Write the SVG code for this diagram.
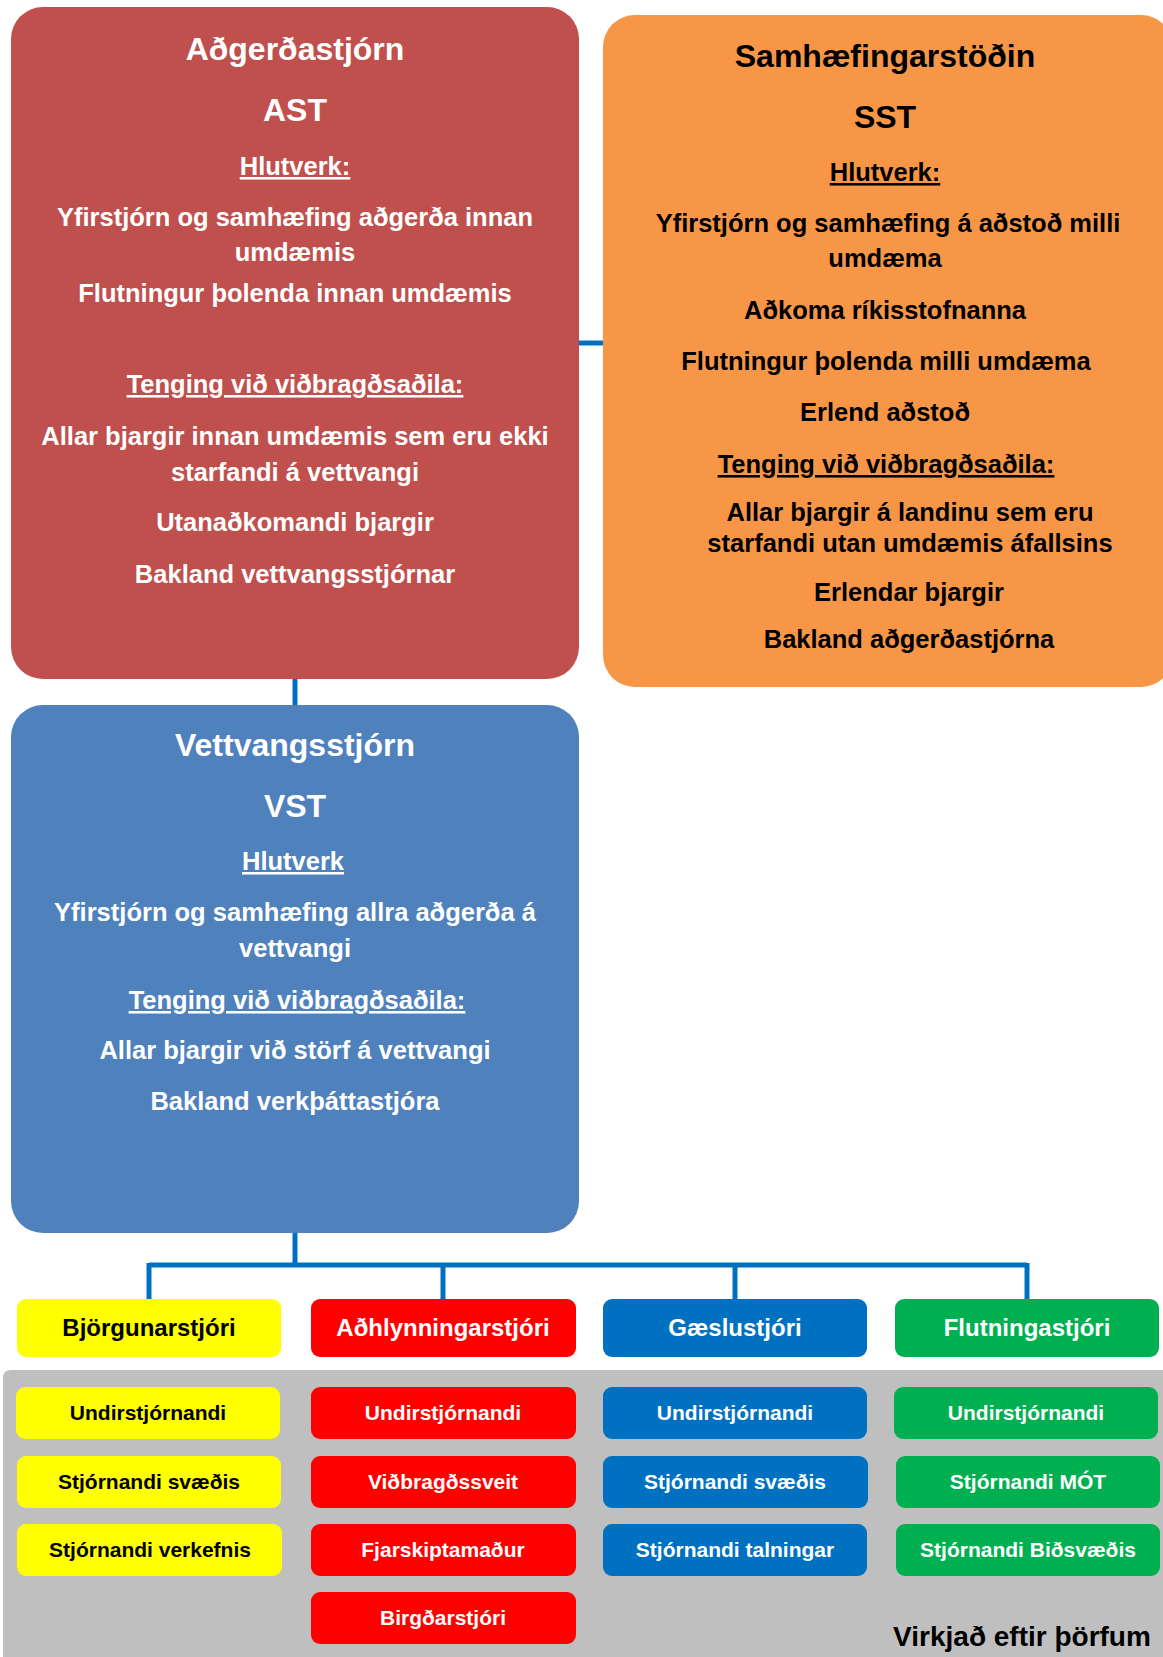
<svg xmlns="http://www.w3.org/2000/svg" width="1163" height="1657" viewBox="0 0 1163 1657">
<style>
text{font-family:"Liberation Sans",Arial,sans-serif;font-weight:bold;text-anchor:middle}
.w{fill:#FFFFFF}
.k{fill:#000000}
.t{font-size:32px}
.b{font-size:25.5px}
.u{text-decoration:underline}
.h{font-size:24px}
.s{font-size:21px}
.conn{fill:none;stroke:#0070C0;stroke-width:5}
</style>
<rect x="0" y="0" width="1163" height="1657" fill="#FFFFFF"/>
<g id="connectors">
<path class="conn" d="M579,343 H605"/>
<path class="conn" d="M295,677 V707"/>
<path class="conn" d="M295,1231 V1265"/>
<path class="conn" d="M149,1265 H1027"/>
<path class="conn" d="M149,1263 V1300 M443,1263 V1300 M735,1263 V1300 M1027,1263 V1300"/>
</g>
<g id="ast">
<rect x="11" y="7" width="568" height="672" rx="32" fill="#C0504D"/>
<text class="w t" x="295" y="60">Aðgerðastjórn</text>
<text class="w t" x="295" y="121">AST</text>
<text class="w b u" x="295" y="175">Hlutverk:</text>
<text class="w b" x="295" y="226">Yfirstjórn og samhæfing aðgerða innan</text>
<text class="w b" x="295" y="261">umdæmis</text>
<text class="w b" x="295" y="302">Flutningur þolenda innan umdæmis</text>
<text class="w b u" x="295" y="393">Tenging við viðbragðsaðila:</text>
<text class="w b" x="295" y="445">Allar bjargir innan umdæmis sem eru ekki</text>
<text class="w b" x="295" y="481">starfandi á vettvangi</text>
<text class="w b" x="295" y="531">Utanaðkomandi bjargir</text>
<text class="w b" x="295" y="583">Bakland vettvangsstjórnar</text>
</g>
<g id="sst">
<rect x="603" y="15" width="570" height="672" rx="32" fill="#F79646"/>
<text class="k t" x="885" y="67">Samhæfingarstöðin</text>
<text class="k t" x="885" y="128">SST</text>
<text class="k b u" x="885" y="181">Hlutverk:</text>
<text class="k b" x="888" y="232">Yfirstjórn og samhæfing á aðstoð milli</text>
<text class="k b" x="885" y="267">umdæma</text>
<text class="k b" x="885" y="319">Aðkoma ríkisstofnanna</text>
<text class="k b" x="886" y="370">Flutningur þolenda milli umdæma</text>
<text class="k b" x="885" y="421">Erlend aðstoð</text>
<text class="k b u" x="886" y="473">Tenging við viðbragðsaðila:</text>
<text class="k b" x="910" y="521">Allar bjargir á landinu sem eru</text>
<text class="k b" x="910" y="552">starfandi utan umdæmis áfallsins</text>
<text class="k b" x="909" y="601">Erlendar bjargir</text>
<text class="k b" x="909" y="648">Bakland aðgerðastjórna</text>
</g>
<g id="vst">
<rect x="11" y="705" width="568" height="528" rx="32" fill="#4F81BD"/>
<text class="w t" x="295" y="756">Vettvangsstjórn</text>
<text class="w t" x="295" y="817">VST</text>
<text class="w b u" x="293" y="870">Hlutverk</text>
<text class="w b" x="295" y="921">Yfirstjórn og samhæfing allra aðgerða á</text>
<text class="w b" x="295" y="957">vettvangi</text>
<text class="w b u" x="297" y="1009">Tenging við viðbragðsaðila:</text>
<text class="w b" x="295" y="1059">Allar bjargir við störf á vettvangi</text>
<text class="w b" x="295" y="1110">Bakland verkþáttastjóra</text>
</g>
<g id="active-area">
<path d="M3,1378 Q3,1370 11,1370 H1163 V1657 H3 Z" fill="#BFBFBF"/>
<text x="1022" y="1646" style="font-size:28px" class="k">Virkjað eftir þörfum</text>
</g>
<g id="bjorgun">
<rect x="17" y="1299" width="264" height="58" rx="9" fill="#FFFF00"/>
<text class="k h" x="149" y="1336">Björgunarstjóri</text>
</g>
<g id="adhlynning">
<rect x="311" y="1299" width="265" height="58" rx="9" fill="#FF0000"/>
<text class="w h" x="443" y="1336">Aðhlynningarstjóri</text>
</g>
<g id="gaesla">
<rect x="603" y="1299" width="264" height="58" rx="9" fill="#0070C0"/>
<text class="w h" x="735" y="1336">Gæslustjóri</text>
</g>
<g id="flutning">
<rect x="895" y="1299" width="264" height="58" rx="9" fill="#00B050"/>
<text class="w h" x="1027" y="1336">Flutningastjóri</text>
</g>
<g id="y1"><rect x="16" y="1387" width="264" height="52" rx="9" fill="#FFFF00"/><text class="k s" x="148" y="1420">Undirstjórnandi</text></g>
<g id="y2"><rect x="17" y="1456" width="264" height="52" rx="9" fill="#FFFF00"/><text class="k s" x="149" y="1489">Stjórnandi svæðis</text></g>
<g id="y3"><rect x="17" y="1524" width="265" height="52" rx="9" fill="#FFFF00"/><text class="k s" x="150" y="1557">Stjórnandi verkefnis</text></g>
<g id="r1"><rect x="311" y="1387" width="265" height="52" rx="9" fill="#FF0000"/><text class="w s" x="443" y="1420">Undirstjórnandi</text></g>
<g id="r2"><rect x="311" y="1456" width="265" height="52" rx="9" fill="#FF0000"/><text class="w s" x="443" y="1489">Viðbragðssveit</text></g>
<g id="r3"><rect x="311" y="1524" width="265" height="52" rx="9" fill="#FF0000"/><text class="w s" x="443" y="1557">Fjarskiptamaður</text></g>
<g id="r4"><rect x="311" y="1592" width="265" height="52" rx="9" fill="#FF0000"/><text class="w s" x="443" y="1625">Birgðarstjóri</text></g>
<g id="b1"><rect x="603" y="1387" width="264" height="52" rx="9" fill="#0070C0"/><text class="w s" x="735" y="1420">Undirstjórnandi</text></g>
<g id="b2"><rect x="603" y="1456" width="265" height="52" rx="9" fill="#0070C0"/><text class="w s" x="735" y="1489">Stjórnandi svæðis</text></g>
<g id="b3"><rect x="603" y="1524" width="264" height="52" rx="9" fill="#0070C0"/><text class="w s" x="735" y="1557">Stjórnandi talningar</text></g>
<g id="g1"><rect x="894" y="1387" width="264" height="52" rx="9" fill="#00B050"/><text class="w s" x="1026" y="1420">Undirstjórnandi</text></g>
<g id="g2"><rect x="896" y="1456" width="264" height="52" rx="9" fill="#00B050"/><text class="w s" x="1028" y="1489">Stjórnandi MÓT</text></g>
<g id="g3"><rect x="896" y="1524" width="264" height="52" rx="9" fill="#00B050"/><text class="w s" x="1028" y="1557">Stjórnandi Biðsvæðis</text></g>
</svg>
